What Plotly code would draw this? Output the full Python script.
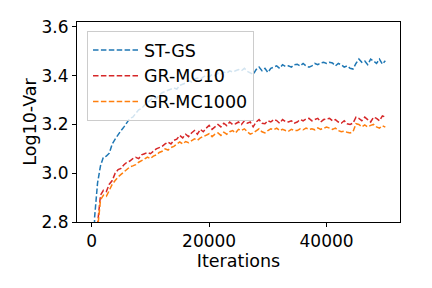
import plotly.graph_objects as go

iterations = list(range(0, 50001, 500))

st_gs = [
    2.30, 2.82, 2.96, 3.03, 3.066, 3.07, 3.082, 3.12, 3.14, 3.16,
    3.175, 3.19, 3.21, 3.225, 3.23, 3.245, 3.26, 3.265, 3.28, 3.29,
    3.30, 3.31, 3.305, 3.32, 3.33, 3.335, 3.34, 3.345, 3.35, 3.345,
    3.36, 3.365, 3.37, 3.38, 3.375, 3.385, 3.39, 3.385, 3.395, 3.40,
    3.395, 3.405, 3.40, 3.41, 3.405, 3.415, 3.41, 3.42, 3.415, 3.42,
    3.425, 3.42, 3.43, 3.418, 3.41, 3.405, 3.425, 3.435, 3.42, 3.43,
    3.413, 3.43, 3.435, 3.44, 3.43, 3.445, 3.438, 3.44, 3.435, 3.445,
    3.447, 3.44, 3.45, 3.44, 3.435, 3.44, 3.45, 3.445, 3.452, 3.455,
    3.45, 3.455, 3.452, 3.44, 3.45, 3.445, 3.435, 3.44, 3.43, 3.427,
    3.45, 3.468, 3.455, 3.46, 3.445, 3.468, 3.46, 3.45, 3.468, 3.447, 3.461,
]

gr_mc10 = [
    2.20, 2.55, 2.79, 2.91, 2.93, 2.925, 2.955, 2.97, 3.00, 3.015,
    3.02, 3.035, 3.045, 3.05, 3.06, 3.065, 3.06, 3.075, 3.08, 3.085,
    3.08, 3.09, 3.10, 3.105, 3.11, 3.12, 3.128, 3.12, 3.135, 3.14,
    3.155, 3.145, 3.16, 3.15, 3.165, 3.175, 3.16, 3.18, 3.17, 3.185,
    3.196, 3.18, 3.19, 3.20, 3.19, 3.205, 3.195, 3.21, 3.20, 3.203,
    3.21, 3.20, 3.215, 3.205, 3.21, 3.19, 3.21, 3.22, 3.205, 3.203,
    3.215, 3.21, 3.22, 3.216, 3.205, 3.22, 3.212, 3.21, 3.215, 3.205,
    3.21, 3.22, 3.215, 3.223, 3.225, 3.215, 3.22, 3.225, 3.21, 3.22,
    3.223, 3.225, 3.215, 3.22, 3.21, 3.205, 3.215, 3.203, 3.20, 3.205,
    3.23, 3.225, 3.215, 3.23, 3.22, 3.21, 3.23, 3.225, 3.215, 3.235, 3.23,
]

gr_mc1000 = [
    2.15, 2.50, 2.77, 2.89, 2.91, 2.905, 2.93, 2.955, 2.97, 2.985,
    2.995, 3.005, 3.015, 3.026, 3.03, 3.035, 3.045, 3.05, 3.058, 3.066,
    3.06, 3.07, 3.075, 3.085, 3.09, 3.10, 3.095, 3.105, 3.11, 3.12,
    3.128, 3.12, 3.13, 3.125, 3.135, 3.141, 3.135, 3.145, 3.15, 3.155,
    3.162, 3.15, 3.16, 3.165, 3.155, 3.168, 3.16, 3.17, 3.175, 3.165,
    3.18, 3.175, 3.182, 3.17, 3.16, 3.165, 3.175, 3.182, 3.17, 3.165,
    3.175, 3.182, 3.178, 3.185, 3.175, 3.18, 3.175, 3.172, 3.18, 3.175,
    3.175, 3.182, 3.178, 3.185, 3.18, 3.182, 3.178, 3.186, 3.18, 3.185,
    3.189, 3.185, 3.18, 3.185, 3.175, 3.17, 3.172, 3.168, 3.165, 3.17,
    3.203, 3.20, 3.19, 3.198, 3.19, 3.196, 3.20, 3.19, 3.185, 3.195, 3.189,
]

series = [
    ("ST-GS", st_gs, "#1f77b4"),
    ("GR-MC10", gr_mc10, "#d62728"),
    ("GR-MC1000", gr_mc1000, "#ff7f0e"),
]

x_ticks = [0, 20000, 40000]
y_ticks = [2.8, 3.0, 3.2, 3.4, 3.6]

fig = go.Figure()
for name, vals, color in series:
    fig.add_trace(go.Scatter(
        x=iterations, y=vals, name=name, mode="lines", legendgroup=name,
        line=dict(color=color, width=1.5, dash="5.5px,2.4px"),
    ))

font = dict(family="DejaVu Sans", size=17, color="black")
fig.update_layout(
    width=424, height=280,
    margin=dict(l=69, r=32, t=14, b=66, autoexpand=False),
    plot_bgcolor="white", paper_bgcolor="white",
    font=font,
    showlegend=True,
    legend=dict(
        x=0.031, y=0.955, xanchor="left", yanchor="top",
        bgcolor="rgba(255,255,255,0.8)",
        bordercolor="#cccccc", borderwidth=1,
        font=dict(family="DejaVu Sans", size=17.5, color="black"),
        itemwidth=46, tracegroupgap=0,
    ),
    xaxis=dict(
        range=[-2500, 52500], tickvals=x_ticks, ticktext=[str(v) for v in x_ticks],
        showgrid=False, zeroline=False, showline=True, linecolor="black",
        linewidth=1, mirror=True, ticks="outside", ticklen=4, tickcolor="black",
        title=dict(text="Iterations", standoff=0, font=dict(size=17.5)),
        automargin=False,
    ),
    yaxis=dict(
        range=[2.8, 3.62], tickvals=y_ticks, ticktext=[f"{v:.1f}" for v in y_ticks],
        showgrid=False, zeroline=False, showline=True, linecolor="black",
        linewidth=1, mirror=True, ticks="outside", ticklen=4, tickcolor="black",
        title=dict(text="Log10-Var", standoff=0, font=dict(size=17.5)),
        automargin=False,
    ),
)

fig.write_html("out.html")
